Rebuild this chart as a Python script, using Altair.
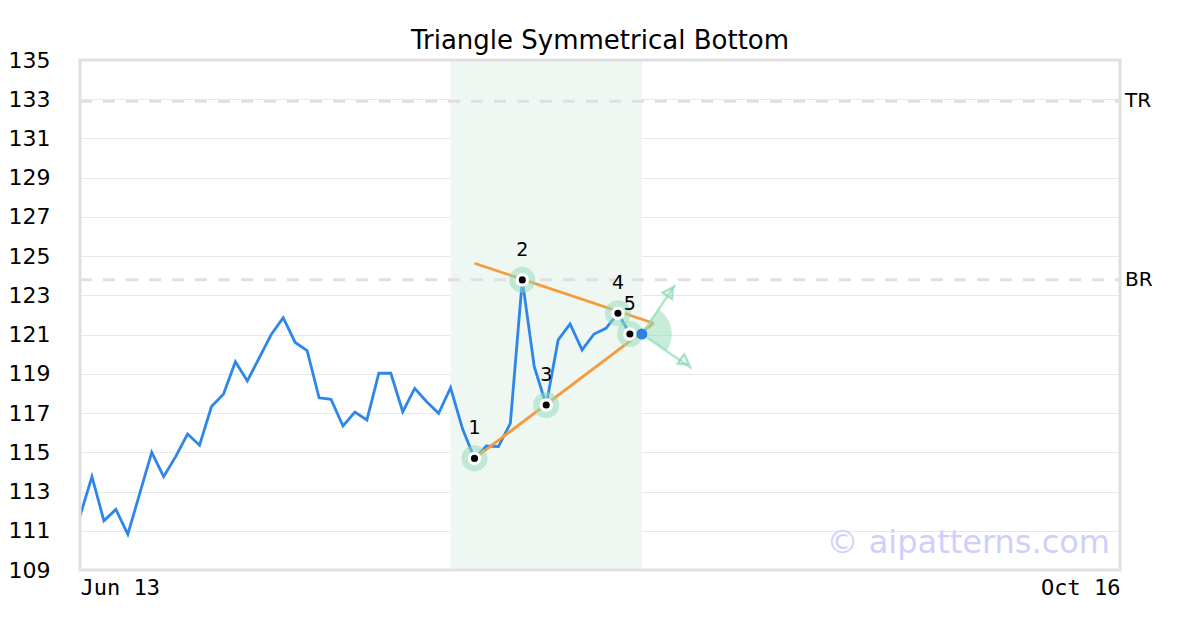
import altair as alt
import pandas as pd

# ---- data ----
price = [111.75, 113.76, 111.51, 112.09, 110.82, 112.91, 115.0, 113.76, 114.78, 115.93,
         115.36, 117.33, 117.96, 119.62, 118.64, 119.82, 121.01, 121.86, 120.6, 120.18,
         117.78, 117.7, 116.34, 117.05, 116.65, 119.03, 119.03, 117.07, 118.26, 117.58,
         116.99, 118.29, 116.2, 114.69, 115.32, 115.29, 116.48, 123.79, 119.37, 117.41,
         120.73, 121.54, 120.22, 121.03, 121.32, 122.09, 121.03]
last_idx = [47]
last_val = [121.03]

x_end = 87
x_tick_pos = [0, 87]
x_tick_labels = ["Jun 13", "Oct 16"]
y_min, y_max = 109, 135
y_ticks = list(range(109, 136, 2))

pattern_span = [31, 47]
level_names = ["TR", "BR"]
level_values = [132.9, 123.8]

pivot_idx = [33, 37, 39, 45, 46]
pivot_val = [114.69, 123.79, 117.41, 122.09, 121.03]
pivot_lbl = ["1", "2", "3", "4", "5"]

upper_line = {"x": [33, 48], "y": [124.64, 121.58]}
lower_line = {"x": [33, 48], "y": [114.69, 121.58]}

arrow_tip_x = [49.78, 51.17]
arrow_tip_y = [123.53, 119.28]
arrow_head_x = [49.36, 50.61]
arrow_head_y = [123.19, 119.62]
arrow_angle = [34, 124]

title = "Triangle Symmetrical Bottom"
watermark = "© aipatterns.com"

# ---- tables ----
df_price = pd.DataFrame({"i": list(range(len(price))), "v": price})
df_last = pd.DataFrame({"i": last_idx, "v": last_val})
df_span = pd.DataFrame({"a": [pattern_span[0]], "b": [pattern_span[1]], "lo": [y_min], "hi": [y_max]})
df_frame = pd.DataFrame({"a": [0], "b": [x_end], "lo": [y_min], "hi": [y_max]})
df_lvl = pd.DataFrame({"name": level_names, "v": level_values, "x0": [0, 0], "x1": [x_end, x_end]})
df_piv = pd.DataFrame({"i": pivot_idx, "v": pivot_val, "lbl": pivot_lbl})
df_tl = pd.DataFrame({
    "i": upper_line["x"] + lower_line["x"],
    "v": upper_line["y"] + lower_line["y"],
    "g": ["u", "u", "l", "l"],
})
df_arrow = pd.DataFrame({
    "x0": last_idx * 2, "y0": last_val * 2,
    "x1": arrow_tip_x, "y1": arrow_tip_y,
    "hx": arrow_head_x, "hy": arrow_head_y, "ang": arrow_angle,
})

xs = alt.Scale(domain=[0, x_end], nice=False, zero=False)
ys = alt.Scale(domain=[y_min, y_max], nice=False, zero=False)

label_expr = " : ".join(
    f"datum.value == {p} ? '{l}'" for p, l in zip(x_tick_pos[:-1], x_tick_labels[:-1])
) + f" : '{x_tick_labels[-1]}'"

x_axis = alt.Axis(values=x_tick_pos, labelExpr=label_expr, grid=False,
                  ticks=False, domain=False, labelFlush=True,
                  labelFont="DejaVu Sans Mono", labelFontSize=22,
                  labelColor="#000", labelPadding=7, title=None, labelOverlap=False)
y_axis = alt.Axis(values=y_ticks, grid=True, gridColor="#e8e8e8",
                  ticks=False, domain=False, labelAlign="left",
                  labelPadding=72, labelFont="DejaVu Sans",
                  labelFontSize=22, labelColor="#000", title=None,
                  labelBaseline="middle", labelOverlap=False, labelFlush=False)


def XQ(f):
    return alt.X(f, scale=xs, axis=x_axis)


def YQ(f):
    return alt.Y(f, scale=ys, axis=y_axis)


shade = alt.Chart(df_span).mark_rect(color="#eef7f2").encode(
    x=XQ("a:Q"), x2="b:Q", y=YQ("lo:Q"), y2="hi:Q")

frame = alt.Chart(df_frame).mark_rect(fillOpacity=0, stroke="#e0e0e0", strokeWidth=3).encode(
    x=XQ("a:Q"), x2="b:Q", y=YQ("lo:Q"), y2="hi:Q")

levels = alt.Chart(df_lvl).mark_rule(color="#e0e0e0", strokeWidth=3, strokeDash=[12, 11]).encode(
    x=XQ("x0:Q"), x2="x1:Q", y=YQ("v:Q"))
level_txt = alt.Chart(df_lvl).mark_text(align="left", baseline="middle", dx=5, font="DejaVu Sans",
                                        fontSize=20, color="#000").encode(
    x=XQ("x1:Q"), y=YQ("v:Q"), text="name:N")

line = alt.Chart(df_price).mark_line(color="#2e86e8", strokeWidth=2.8).encode(
    x=XQ("i:Q"), y=YQ("v:Q"))

tlines = alt.Chart(df_tl).mark_line(color="#f79a3e", strokeWidth=2.8).encode(
    x=XQ("i:Q"), y=YQ("v:Q"), detail="g:N")

halo = alt.Chart(df_piv).mark_circle(size=680, color="#8fdcb5", opacity=0.5).encode(
    x=XQ("i:Q"), y=YQ("v:Q"))

wedge = alt.Chart(df_last).mark_arc(theta=0.593, theta2=2.164, radius=30, color="#8fdcb5",
                                    opacity=0.5).encode(
    x=XQ("i:Q"), y=YQ("v:Q"))

arrows = alt.Chart(df_arrow).mark_rule(color="#8fdcb5", strokeWidth=2.5, opacity=0.7).encode(
    x=XQ("x0:Q"), y=YQ("y0:Q"), x2="x1:Q", y2="y1:Q")
heads = alt.Chart(df_arrow).mark_point(shape="triangle-up", size=130, filled=False,
                                       stroke="#8fdcb5", fill="#c7edda", fillOpacity=0.4,
                                       strokeWidth=2.2, opacity=0.8).encode(
    x=XQ("hx:Q"), y=YQ("hy:Q"), angle=alt.Angle("ang:Q", scale=None))

white = alt.Chart(df_piv).mark_circle(size=180, color="white", opacity=1).encode(
    x=XQ("i:Q"), y=YQ("v:Q"))
black = alt.Chart(df_piv).mark_circle(size=50, color="black", opacity=1).encode(
    x=XQ("i:Q"), y=YQ("v:Q"))
piv_txt = alt.Chart(df_piv).mark_text(dy=-30, font="DejaVu Sans", fontSize=19, color="#000",
                                      baseline="middle").encode(
    x=XQ("i:Q"), y=YQ("v:Q"), text="lbl:N")

last_dot = alt.Chart(df_last).mark_circle(size=120, color="#2f80e0", opacity=1).encode(
    x=XQ("i:Q"), y=YQ("v:Q"))

wm = alt.Chart(pd.DataFrame({"t": [watermark]})).mark_text(
    align="right", baseline="alphabetic", font="DejaVu Sans", fontSize=32, color="#cfcffb").encode(
    x=alt.value(1030), y=alt.value(493), text="t:N")

chart = alt.layer(shade, levels, level_txt, line, tlines, halo, wedge, arrows, heads,
                  white, black, last_dot, piv_txt, wm, frame).properties(
    width=1040, height=510,
    title=alt.TitleParams(title, font="DejaVu Sans", fontSize=26, fontWeight="normal",
                          color="#000", anchor="middle", offset=-5),
    autosize=alt.AutoSizeParams(type="none"),
    padding={"left": 72, "top": 52, "right": 72, "bottom": 52},
).configure_view(stroke=None).configure(background="white")

chart.save("out.html", embed_options={"renderer": "svg", "actions": False})
